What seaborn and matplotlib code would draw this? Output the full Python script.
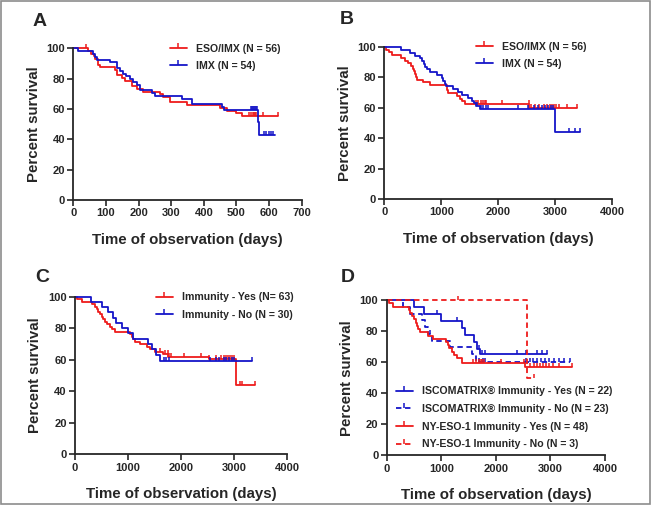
import numpy as np
import pandas as pd
import seaborn as sns
import matplotlib.pyplot as plt
from matplotlib.lines import Line2D
from matplotlib.path import Path
from matplotlib.patches import Rectangle

# ---- Panel A: first ~700 days ----
a_eso_t = [45, 55, 62, 68, 75, 82, 128, 135, 148, 158, 179, 194, 214, 265, 275, 296, 347, 450, 470, 500, 516]
a_eso_s = [98.2, 96.4, 94.6, 92.9, 89.3, 87.5, 85.7, 82.1, 80.4, 78.6, 75.0, 73.2, 71.4, 69.6, 67.9, 64.3, 62.5, 60.7, 58.9, 57.1, 55.4]
a_eso_end = 628
a_eso_cens = [38, 540, 545, 550, 553, 556, 560, 580, 628]

a_imx_t = [15, 60, 65, 72, 112, 133, 143, 152, 163, 174, 184, 194, 204, 240, 250, 332, 363, 455, 462, 565, 568]
a_imx_s = [98.1, 96.3, 94.4, 92.6, 90.7, 87.0, 85.2, 83.3, 81.5, 79.6, 77.8, 75.9, 72.2, 70.4, 68.5, 66.7, 63.0, 61.1, 59.3, 51.5, 43.0]
a_imx_end = 618
a_imx_cens = [545, 548, 551, 554, 557, 560, 563, 585, 592, 600, 607, 613]

# ---- Panel B: full follow-up ----
b_eso_t = [30, 90, 130, 300, 360, 420, 470, 500, 525, 540, 555, 575, 685, 800, 1095, 1120, 1270, 1330, 1370, 1415, 2545]
b_eso_s = [98.2, 96.4, 94.6, 92.9, 91.1, 89.3, 87.5, 85.7, 83.9, 82.1, 80.4, 78.6, 76.8, 75.0, 71.4, 69.6, 67.9, 66.1, 64.3, 62.5, 60.0]
b_eso_end = 3385
b_eso_cens = [1610, 1650, 1700, 1730, 1760, 1790, 2070, 2530, 2580, 2650, 2720, 2800, 2850, 2900, 2940, 2980, 3020, 3060, 3200, 3385]

b_imx_t = [300, 450, 540, 620, 660, 690, 720, 750, 800, 920, 1010, 1030, 1060, 1080, 1210, 1300, 1360, 1470, 1530, 1580, 1610, 1680, 3000]
b_imx_s = [98.1, 96.3, 94.4, 92.6, 90.7, 88.9, 87.0, 85.2, 83.3, 81.5, 79.6, 77.8, 75.9, 74.1, 72.2, 70.4, 68.5, 66.7, 64.8, 63.0, 61.1, 59.3, 44.4]
b_imx_end = 3430
b_imx_cens = [1620, 1700, 1740, 1780, 1820, 2350, 2520, 2620, 2700, 2760, 2820, 2870, 2920, 2960, 3240, 3340, 3430]

# ---- Panel C: immunity yes / no ----
c_yes_t = [45, 125, 315, 375, 410, 440, 470, 500, 535, 565, 600, 660, 690, 750, 1035, 1065, 1100, 1130, 1225, 1350, 1410, 1505, 1665, 1760, 2530, 3035]
c_yes_s = [98.4, 96.8, 95.2, 93.7, 92.1, 90.5, 88.9, 87.3, 85.7, 84.1, 82.5, 81.0, 79.4, 77.8, 76.2, 74.6, 73.0, 71.4, 69.8, 68.3, 66.7, 65.1, 63.5, 62.0, 60.2, 44.2]
c_yes_end = 3390
c_yes_cens = [1600, 1690, 1750, 1780, 1800, 2050, 2380, 2530, 2650, 2750, 2800, 2850, 2880, 2920, 2960, 3000, 3100, 3150, 3390]

c_no_t = [295, 500, 630, 720, 770, 880, 1005, 1100, 1380, 1445, 1520, 1600]
c_no_s = [96.7, 93.3, 90.0, 86.7, 83.3, 80.0, 76.7, 73.3, 70.0, 66.7, 63.3, 59.2]
c_no_end = 3340
c_no_cens = [1680, 1720, 1780, 2550, 2650, 2720, 2800, 2850, 2900, 2960, 3000, 3330]

# ---- Panel D: ISCOMATRIX / NY-ESO-1 immunity ----
d_isc_yes_t = [505, 690, 1000, 1375, 1430, 1600, 1660, 1710]
d_isc_yes_s = [95.5, 90.9, 86.4, 81.8, 77.3, 72.7, 68.2, 65.0]
d_isc_yes_end = 2930
d_isc_yes_cens = [920, 1290, 1690, 1750, 1800, 2380, 2560, 2750, 2850, 2930]

d_isc_no_t = [305, 430, 640, 700, 765, 825, 1160, 1560, 1630]
d_isc_no_s = [95.7, 91.3, 87.0, 82.6, 78.3, 73.9, 69.6, 65.2, 60.0]
d_isc_no_end = 3360
d_isc_no_cens = [790, 1700, 1760, 1800, 2550, 2620, 2680, 2750, 2830, 2900, 2980, 3060, 3150, 3250, 3360]

d_eso_yes_t = [45, 120, 400, 430, 470, 505, 530, 550, 570, 610, 765, 855, 1085, 1120, 1140, 1190, 1230, 1280, 1375, 2535]
d_eso_yes_s = [97.9, 95.8, 93.8, 91.7, 89.6, 87.5, 85.4, 83.3, 81.3, 79.2, 77.1, 75.0, 72.9, 70.8, 68.8, 66.7, 64.6, 62.5, 59.6, 56.7]
d_eso_yes_end = 3390
d_eso_yes_cens = [1580, 1640, 1700, 1720, 1750, 1780, 2100, 2520, 2620, 2700, 2760, 2800, 2860, 2920, 2980, 3050, 3150, 3390]

d_eso_no_t = [2565]
d_eso_no_s = [50.0]
d_eso_no_end = 2690
d_eso_no_cens = [1310, 2690]

RED = '#ee1b1b'
BLUE = '#1515c8'
DASH = (0, (3, 2))
TICK = Path([(0, 0), (0, 1)])  # upward censor tick

sns.set_style('ticks')
plt.rcParams['font.family'] = ['Liberation Sans', 'DejaVu Sans']
plt.rcParams['font.weight'] = 'bold'
plt.rcParams['axes.labelweight'] = 'bold'

W, H = 653, 514
fig = plt.figure(figsize=(W / 100, H / 100), dpi=100)


def px_axes(x0, x1, y_top, y_bot):
    return fig.add_axes([x0 / W, 1 - y_bot / H, (x1 - x0) / W, (y_bot - y_top) / H])


def km(ax, times, surv, end, cens, color, ls='-'):
    df = pd.DataFrame({'t': [0] + times + [end], 's': [100] + surv + [surv[-1]]})
    sns.lineplot(data=df, x='t', y='s', ax=ax, color=color, linestyle=ls, lw=1.3,
                 drawstyle='steps-post', estimator=None, sort=False, clip_on=False)
    lv = np.array([100] + surv)[np.searchsorted(times, cens, side='right')]
    ax.plot(cens, lv, linestyle='none', marker=TICK, ms=6, mew=1.1, color=color, clip_on=False)


def style(ax, xmax, xstep):
    ax.set_xlim(0, xmax)
    ax.set_ylim(0, 100)
    ax.set_xticks(np.arange(0, xmax + 1, xstep))
    ax.set_yticks(range(0, 101, 20))
    sns.despine(ax=ax)
    for sp in ['left', 'bottom']:
        ax.spines[sp].set_linewidth(1.3)
    ax.tick_params(direction='out', length=4, width=1.2, labelsize=8, pad=2)
    ax.set_xlabel('Time of observation (days)', fontsize=10.8, labelpad=10.5)
    ax.set_ylabel('Percent survival', fontsize=10.8, labelpad=4)


def handle(color, ls='-'):
    return Line2D([], [], color=color, ls=ls, lw=1.3, marker=TICK, ms=7, mew=1.1)


def legend(ax, handles, labels, x, y):
    ax.legend(handles, labels, loc='upper left', bbox_to_anchor=(x / W, 1 - y / H),
              bbox_transform=fig.transFigure, frameon=False, borderpad=0, borderaxespad=0,
              handlelength=1.6, handletextpad=0.9, labelspacing=0.72, numpoints=1,
              prop={'size': 7.6, 'weight': 'bold'})


# A
axA = px_axes(73.3, 301.7, 48.3, 200)
km(axA, a_eso_t, a_eso_s, a_eso_end, a_eso_cens, RED)
km(axA, a_imx_t, a_imx_s, a_imx_end, a_imx_cens, BLUE)
style(axA, 700, 100)
legend(axA, [handle(RED), handle(BLUE)], ['ESO/IMX (N = 56)', 'IMX (N = 54)'], 170, 43.5)

# B
axB = px_axes(384.3, 612.3, 47, 199)
km(axB, b_eso_t, b_eso_s, b_eso_end, b_eso_cens, RED)
km(axB, b_imx_t, b_imx_s, b_imx_end, b_imx_cens, BLUE)
style(axB, 4000, 1000)
legend(axB, [handle(RED), handle(BLUE)], ['ESO/IMX (N = 56)', 'IMX (N = 54)'], 476, 41.5)

# C
axC = px_axes(75, 287.3, 296.7, 454.3)
km(axC, c_yes_t, c_yes_s, c_yes_end, c_yes_cens, RED)
km(axC, c_no_t, c_no_s, c_no_end, c_no_cens, BLUE)
style(axC, 4000, 1000)
legend(axC, [handle(RED), handle(BLUE)], ['Immunity - Yes (N= 63)', 'Immunity - No (N = 30)'], 156, 292.5)

# D
axD = px_axes(386.7, 605, 300, 455.3)
km(axD, d_isc_yes_t, d_isc_yes_s, d_isc_yes_end, d_isc_yes_cens, BLUE)
km(axD, d_isc_no_t, d_isc_no_s, d_isc_no_end, d_isc_no_cens, BLUE, DASH)
km(axD, d_eso_yes_t, d_eso_yes_s, d_eso_yes_end, d_eso_yes_cens, RED)
km(axD, d_eso_no_t, d_eso_no_s, d_eso_no_end, d_eso_no_cens, RED, DASH)
style(axD, 4000, 1000)
legend(axD, [handle(BLUE), handle(BLUE, DASH), handle(RED), handle(RED, DASH)],
       ['ISCOMATRIX\u00ae Immunity - Yes (N = 22)', 'ISCOMATRIX\u00ae Immunity - No (N = 23)',
        'NY-ESO-1 Immunity - Yes (N = 48)', 'NY-ESO-1 Immunity - No (N = 3)'], 396, 386.5)

for letter, x, y in [('A', 33, 22), ('B', 340, 20), ('C', 35, 277), ('D', 341, 277)]:
    fig.text(x / W, 1 - y / H, letter, fontsize=14, fontweight='bold', ha='left', va='center')

fig.add_artist(Rectangle((0.5 / W, 1 - 504 / H), 649.5 / W, 503 / H, transform=fig.transFigure,
                         fill=False, edgecolor='#8c8c8c', lw=1.2))

fig.savefig('out.png', dpi=100)
